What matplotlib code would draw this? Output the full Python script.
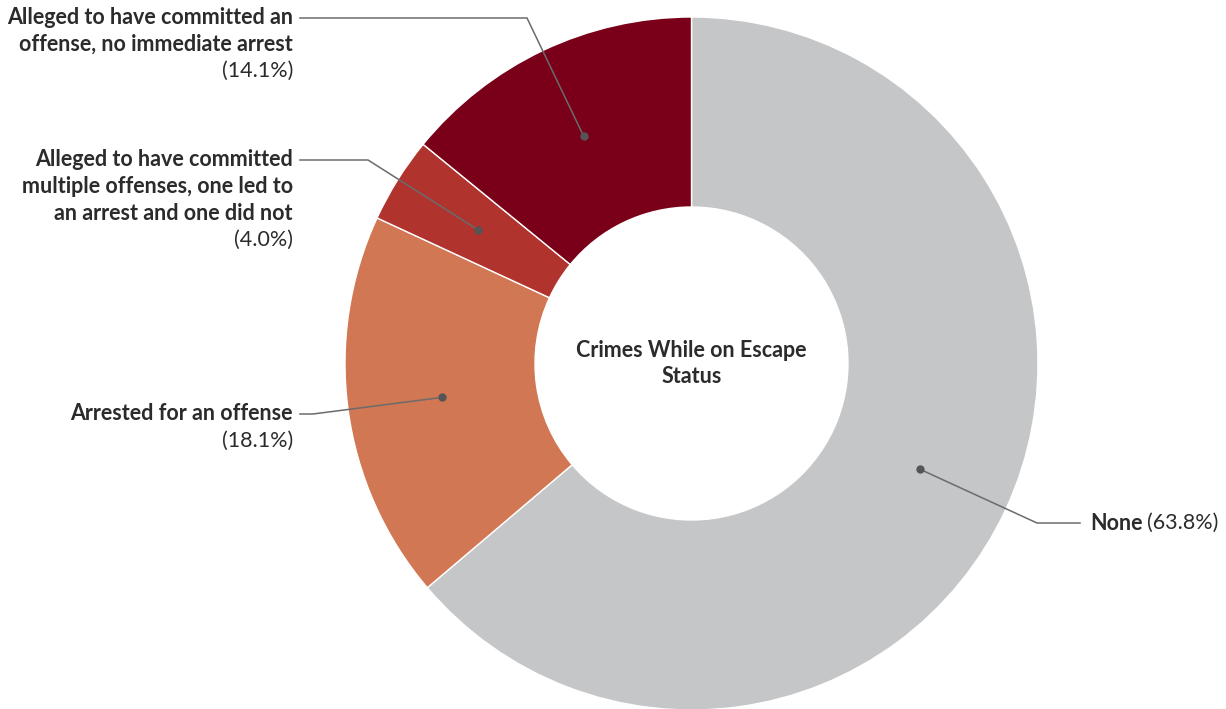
import numpy as np
import matplotlib.pyplot as plt

plt.rcParams['font.family'] = ['Lato', 'DejaVu Sans']

labels = ["None",
          "Arrested for an offense",
          "Alleged to have committed\nmultiple offenses, one led to\nan arrest and one did not",
          "Alleged to have committed an\noffense, no immediate arrest"]
shares = [63.8, 18.1, 4.0, 14.1]
colors = ["#c5c6c8", "#d27754", "#b0332e", "#7a0019"]
title = "Crimes While on Escape\nStatus"

W, H = 1226, 709
fs = 15.5
fig = plt.figure(figsize=(W / 100, H / 100), dpi=100)
ax = fig.add_axes([0, 0, 1, 1])

# work in pixel units, y measured from the top
def py(y):
    return H - y

cx, cy = 691.5, py(363.5)
R, r_in = 346.5, 156.5
wedges, _ = ax.pie(shares, colors=colors, startangle=90, counterclock=False,
                   radius=R, center=(cx, cy),
                   wedgeprops=dict(width=R - r_in, edgecolor='white', linewidth=1))
ax.set_xlim(0, W)
ax.set_ylim(0, H)
ax.set_aspect('equal')
ax.axis('off')

ax.text(cx, cy, title, ha='center', va='center', fontsize=fs,
        fontweight='bold', color='#2b2b2b', linespacing=1.25)

# leader layout: elbow point, line end, text side
leaders = [
    ((1037, 523), (1080, 523), 'left'),
    ((313, 414), (300, 414), 'right'),
    ((368, 160), (300, 160), 'right'),
    ((527, 18), (300, 18), 'right'),
]

line_h = 26.5
rm = (R + r_in) / 2
fig.canvas.draw()
renderer = fig.canvas.get_renderer()
for w, lab, val, (elbow, end, side) in zip(wedges, labels, shares, leaders):
    theta = np.deg2rad((w.theta1 + w.theta2) / 2)
    dx, dy = cx + rm * np.cos(theta), cy + rm * np.sin(theta)
    ax.plot([dx, elbow[0], end[0]], [dy, py(elbow[1]), py(end[1])],
            color='#6b6b6b', lw=1.1, solid_joinstyle='miter')
    ax.plot(dx, dy, 'o', color='#555555', ms=5)
    pct = f"({val:.1f}%)"
    if side == 'left':
        tx = end[0] + 10
        t = ax.text(tx, py(end[1]), lab, ha='left', va='center', fontsize=fs,
                    fontweight='bold', color='#2b2b2b')
        bb = t.get_window_extent(renderer)
        ax.text(bb.x1 + 4, py(end[1]), pct, ha='left', va='center',
                fontsize=fs, color='#2b2b2b')
    else:
        tx = end[0] - 7
        lines = lab.split("\n")
        for i, s in enumerate(lines):
            ax.text(tx, py(end[1] + i * line_h), s, ha='right', va='center',
                    fontsize=fs, fontweight='bold', color='#2b2b2b')
        ax.text(tx, py(end[1] + len(lines) * line_h), pct, ha='right',
                va='center', fontsize=fs, color='#2b2b2b')

fig.savefig('out.png', dpi=100)
